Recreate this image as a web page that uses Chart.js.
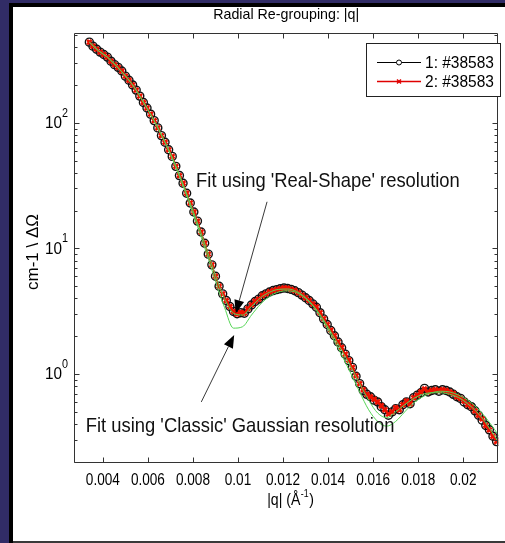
<!DOCTYPE html>
<html><head><meta charset="utf-8">
<script src="https://cdn.jsdelivr.net/npm/chart.js@4.4.1/dist/chart.umd.min.js"></script>
<style>html,body{margin:0;padding:0;background:#312c66;overflow:hidden}#wrap{width:505px;height:543px;position:relative}</style>
</head><body><div id="wrap"><canvas id="c"></canvas></div>
<script>
// ---------- data ----------
const q = [0.00340,0.00356,0.00372,0.00388,0.00404,0.00420,0.00436,0.00452,0.00468,0.00484,
0.00500,0.00516,0.00532,0.00548,0.00564,0.00580,0.00596,0.00612,0.00628,0.00644,
0.00660,0.00676,0.00692,0.00708,0.00724,0.00740,0.00756,0.00772,0.00788,0.00804,
0.00820,0.00836,0.00852,0.00868,0.00884,0.00900,0.00916,0.00932,0.00948,0.00964,
0.00980,0.00996,0.01012,0.01028,0.01044,0.01060,0.01076,0.01092,0.01108,0.01124,
0.01140,0.01156,0.01172,0.01188,0.01204,0.01220,0.01236,0.01252,0.01268,0.01284,
0.01300,0.01316,0.01332,0.01348,0.01364,0.01380,0.01396,0.01412,0.01428,0.01444,
0.01460,0.01476,0.01492,0.01508,0.01524,0.01540,0.01556,0.01572,0.01588,0.01604,
0.01620,0.01636,0.01652,0.01668,0.01684,0.01700,0.01716,0.01732,0.01748,0.01764,
0.01780,0.01796,0.01812,0.01828,0.01844,0.01860,0.01876,0.01892,0.01908,0.01924,
0.01940,0.01956,0.01972,0.01988,0.02004,0.02020,0.02036,0.02052,0.02068,0.02084,
0.02100,0.02116,0.02132,0.02148];
const intensity1 = [438,407,385,365,349,333,309,290,276,258,
235,218,200,182,163,145,131,117,104,91,
79,70,61,54,45,38,33,27.5,23,19.5,
16.5,13.5,11.0,9.0,7.4,6.0,5.0,4.35,3.85,3.45,
3.15,3.02,3.08,3.05,3.30,3.55,3.78,3.95,4.20,4.35,
4.50,4.62,4.70,4.78,4.84,4.80,4.72,4.60,4.45,4.25,
4.05,3.85,3.62,3.40,3.08,2.75,2.48,2.22,2.02,1.80,
1.62,1.44,1.28,1.13,0.96,0.84,0.74,0.69,0.66,0.62,
0.60,0.55,0.52,0.47,0.50,0.53,0.52,0.57,0.60,0.58,
0.65,0.68,0.71,0.77,0.72,0.74,0.75,0.73,0.75,0.74,
0.72,0.69,0.66,0.64,0.60,0.57,0.55,0.51,0.47,0.43,
0.39,0.36,0.32,0.29];
const intensity2 = [438,407,385,365,349,333,309,290,276,258,
235,218,200,182,163,145,131,117,104,91,
79,70,61,54,45,38,33,27.5,23,19.5,
16.5,13.5,11.0,9.0,7.4,6.0,5.0,4.35,3.85,3.45,
3.15,3.00,3.10,3.05,3.32,3.55,3.80,3.95,4.22,4.35,
4.52,4.62,4.72,4.78,4.84,4.82,4.72,4.62,4.45,4.25,
4.05,3.86,3.62,3.42,3.08,2.76,2.48,2.24,2.02,1.80,
1.63,1.44,1.29,1.13,0.97,0.84,0.75,0.69,0.66,0.63,
0.60,0.56,0.52,0.48,0.50,0.54,0.52,0.57,0.61,0.58,
0.65,0.68,0.72,0.76,0.72,0.74,0.75,0.74,0.75,0.74,
0.72,0.70,0.66,0.64,0.61,0.57,0.55,0.51,0.47,0.44,
0.39,0.36,0.32,0.29];
const fitQ = [0.0034,0.0038,0.0042,0.0046,0.0050,0.0054,0.0058,0.0062,0.0066,0.0070,
0.0074,0.0078,0.0082,0.0086,0.0090,0.0094,0.0098,0.0102,0.0106,0.0110,
0.0114,0.0118,0.0122,0.0126,0.0130,0.0134,0.0138,0.0142,0.0146,0.0150,
0.0154,0.0158,0.0162,0.0166,0.0170,0.0174,0.0178,0.0182,0.0186,0.0190,
0.0194,0.0198,0.0202,0.0206,0.0210,0.0214,0.0218];
const fitRealShape = [438,375,333,283,236,191,146,110,80,57,
38.5,25,16,10,6.1,4.0,3.05,2.95,3.45,4.05,
4.48,4.72,4.75,4.55,4.05,3.4,2.7,2.05,1.55,1.15,
0.84,0.62,0.49,0.45,0.50,0.57,0.64,0.69,0.71,0.71,
0.69,0.65,0.58,0.50,0.41,0.32,0.25];
const fitClassic = [438,375,333,283,236,191,146,110,80,56,
37.5,24,15,9.2,5.5,3.4,2.32,2.38,2.95,3.6,
4.15,4.5,4.6,4.45,4.0,3.35,2.6,1.95,1.42,1.02,
0.72,0.52,0.42,0.385,0.42,0.5,0.59,0.66,0.71,0.73,
0.72,0.68,0.62,0.54,0.45,0.36,0.28];
const xTickValues = [0.004,0.006,0.008,0.010,0.012,0.014,0.016,0.018,0.020];
const xTickLabels = ['0.004','0.006','0.008','0.01','0.012','0.014','0.016','0.018','0.02'];
const yTickValues = [1,10,100];
const yTickExponents = ['0','1','2'];
const seriesLabels = ['1: #38583','2: #38583'];
const titleText = 'Radial Re-grouping: |q|';
const xTitle = ['|q| (\u00C5', '-1', ')'];
const yTitle = 'cm-1 \\ \u0394\u03A9';
const notes = [
  {text:"Fit using 'Real-Shape' resolution", at:[0.00814,30.8], from:[0.01129,23.5], to:[0.0099,3.05]},
  {text:"Fit using 'Classic' Gaussian resolution", at:[0.00324,0.347], from:[0.00837,0.60], to:[0.00983,2.05]}
];
const X_MIN = 0.002719, X_MAX = 0.021561, Y_MIN = 0.196, Y_MAX = 518;

const FONT = '"Liberation Sans", Arial, Helvetica, sans-serif';
const pts = (xs, ys) => xs.map((v,i)=>({x:v, y:ys[i]}));

const decor = {
  id:'decor',
  beforeDraw(chart){
    const c = chart.ctx, W = chart.width, H = chart.height;
    c.save();
    c.fillStyle='#312c66'; c.fillRect(0,0,W,H);
    c.fillStyle='#000'; c.fillRect(9,3,W-9,H-3);
    c.fillStyle='#fff'; c.fillRect(13,7,W-13,534);
    c.fillStyle='#3a3a3a'; c.fillRect(13,541,W-13,2);
    c.restore();
  },
  afterDraw(chart){
    const c = chart.ctx, a = chart.chartArea, xs = chart.scales.x, ys = chart.scales.y;
    const P = (qv, iv) => [xs.getPixelForValue(qv), ys.getPixelForValue(iv)];
    c.save();
    // axes box
    c.strokeStyle='#333'; c.lineWidth=1;
    const L=Math.round(a.left)+0.5, T=Math.round(a.top)+0.5, R=Math.round(a.right)-0.5, B=Math.round(a.bottom)-0.5;
    c.beginPath(); c.moveTo(L,T); c.lineTo(R,T); c.lineTo(R,B); c.lineTo(L,B); c.closePath(); c.stroke();
    c.beginPath();
    xs.ticks.forEach(t=>{const X=Math.round(xs.getPixelForValue(t.value))+0.5;
      c.moveTo(X,B); c.lineTo(X,B-5); c.moveTo(X,T); c.lineTo(X,T+5);});
    ys.ticks.forEach(t=>{const Y=Math.round(ys.getPixelForValue(t.value))+0.5; const len=t.major?5:3;
      c.moveTo(L,Y); c.lineTo(L+len,Y); c.moveTo(R,Y); c.lineTo(R-len,Y);});
    c.stroke();
    // tick labels
    c.fillStyle='#000';
    c.font='17px '+FONT; c.textAlign='center'; c.textBaseline='middle';
    xs.ticks.forEach((t,i)=>{ const lab = xTickLabels[xTickValues.indexOf(t.value)];
      if(lab!==undefined){ const w=c.measureText(lab).width; c.fillText(lab, xs.getPixelForValue(t.value), 480, w*0.8); } });
    yTickValues.forEach((v,i)=>{
      const Y = ys.getPixelForValue(v);
      c.font='17px '+FONT; c.textAlign='right'; c.textBaseline='middle';
      c.fillText('10', 62, Y+0.5, 17);
      c.font='12px '+FONT; c.textAlign='left'; c.textBaseline='alphabetic';
      c.fillText(yTickExponents[i], 62, Y-6, 6);
    });
    // title
    c.font='15px '+FONT; c.textAlign='center'; c.textBaseline='middle';
    c.fillText(titleText, (a.left+a.right)/2, 15, 146);
    // x title with superscript
    c.font='16px '+FONT;
    const w0=c.measureText(xTitle[0]).width*0.88, w2=c.measureText(xTitle[2]).width*0.88;
    c.font='10px '+FONT; const w1=c.measureText(xTitle[1]).width*0.88;
    let sx = 290 - (w0+w1+w2)/2;
    c.textAlign='left'; c.textBaseline='middle';
    c.font='16px '+FONT; c.fillText(xTitle[0], sx, 501, w0);
    c.font='10px '+FONT; c.fillText(xTitle[1], sx+w0+0.5, 494, w1);
    c.font='16px '+FONT; c.fillText(xTitle[2], sx+w0+w1+1, 501, w2);
    // y title
    c.save(); c.translate(33, 252); c.rotate(-Math.PI/2);
    c.font='17px '+FONT; c.textAlign='center'; c.textBaseline='middle';
    c.fillText(yTitle, 0, 0, 76); c.restore();
    // annotations
    notes.forEach(n=>{
      const [fx,fy]=P(n.from[0],n.from[1]), [tx,ty]=P(n.to[0],n.to[1]);
      const ang=Math.atan2(ty-fy,tx-fx), hl=13, hw=5;
      const bx=tx-hl*Math.cos(ang), by=ty-hl*Math.sin(ang);
      c.strokeStyle='#3a3a3a'; c.lineWidth=1;
      c.beginPath(); c.moveTo(fx,fy); c.lineTo(bx,by); c.stroke();
      c.fillStyle='#000'; c.beginPath(); c.moveTo(tx,ty);
      c.lineTo(bx+hw*Math.sin(ang), by-hw*Math.cos(ang));
      c.lineTo(bx-hw*Math.sin(ang), by+hw*Math.cos(ang)); c.closePath(); c.fill();
      const [ax,ay]=P(n.at[0],n.at[1]);
      c.fillStyle='#111'; c.font='21px '+FONT; c.textAlign='left'; c.textBaseline='alphabetic';
      const w=c.measureText(n.text).width;
      c.fillText(n.text, ax, ay, w*0.876);
    });
    // legend
    const lx=366, ly=43, lw=134, lh=53;
    c.fillStyle='#fff'; c.fillRect(lx,ly,lw,lh);
    c.strokeStyle='#222'; c.lineWidth=1; c.strokeRect(lx+0.5,ly+0.5,lw,lh);
    const rows=[62,81];
    c.font='17px '+FONT; c.textAlign='left'; c.textBaseline='middle';
    // row 1
    c.strokeStyle='#000'; c.lineWidth=1;
    c.beginPath(); c.moveTo(377,rows[0]+0.5); c.lineTo(421,rows[0]+0.5); c.stroke();
    c.fillStyle='#fff'; c.beginPath(); c.arc(399,rows[0]+0.5,2.5,0,Math.PI*2); c.fill(); c.stroke();
    c.fillStyle='#000'; c.fillText(seriesLabels[0], 425, rows[0]+1, 69);
    // row 2
    c.strokeStyle='#e00000'; c.lineWidth=1.5;
    c.beginPath(); c.moveTo(377,rows[1]+0.5); c.lineTo(421,rows[1]+0.5); c.stroke();
    c.lineWidth=1.5; c.beginPath();
    c.moveTo(397,rows[1]-1.5); c.lineTo(401,rows[1]+2.5); c.moveTo(401,rows[1]-1.5); c.lineTo(397,rows[1]+2.5); c.stroke();
    c.fillStyle='#000'; c.fillText(seriesLabels[1], 425, rows[1]+1, 69);
    c.restore();
  }
};

new Chart(document.getElementById('c'), {
  type:'scatter',
  data:{datasets:[
    {label:'Real-Shape fit', data:pts(fitQ,fitRealShape), showLine:true, borderColor:'#55d455', borderWidth:1, pointRadius:0, cubicInterpolationMode:'monotone'},
    {label:'Classic fit', data:pts(fitQ,fitClassic), showLine:true, borderColor:'#55d455', borderWidth:1, pointRadius:0, cubicInterpolationMode:'monotone'},
    {label:seriesLabels[1], data:pts(q,intensity2), showLine:true, borderColor:'#ee1100', borderWidth:1.5, pointStyle:'crossRot', pointRadius:3.2, pointBorderColor:'#ee1100', pointBorderWidth:2.6, pointBackgroundColor:'#ee1100'},
    {label:seriesLabels[0], data:pts(q,intensity1), showLine:true, borderColor:'#000', borderWidth:1, pointStyle:'circle', pointRadius:4, pointBorderColor:'#111', pointBorderWidth:1.4, pointBackgroundColor:'rgba(0,0,0,0)'}
  ]},
  options:{
    responsive:true, maintainAspectRatio:false, animation:false, events:[],
    layout:{padding:{top:33,left:0,right:0,bottom:0}},
    plugins:{legend:{display:false}, tooltip:{enabled:false}, title:{display:false}},
    scales:{
      x:{type:'linear', min:X_MIN, max:X_MAX, grid:{display:false}, border:{display:false}, ticks:{display:false},
         afterBuildTicks(s){ s.ticks = xTickValues.map(v=>({value:v})); },
         afterFit(s){ s.height = 80; }},
      y:{type:'logarithmic', min:Y_MIN, max:Y_MAX, grid:{display:false}, border:{display:false}, ticks:{display:false},
         afterBuildTicks(s){
           const t=[];
           [0.1,1,10,100].forEach(d=>{ for(let m=1;m<=9;m++){ const v=m*d; if(v>=Y_MIN && v<=Y_MAX) t.push({value:v, major:m===1}); } });
           s.ticks=t; },
         afterFit(s){ s.width = 74; }}
    }
  },
  plugins:[decor]
});
</script></body></html>
